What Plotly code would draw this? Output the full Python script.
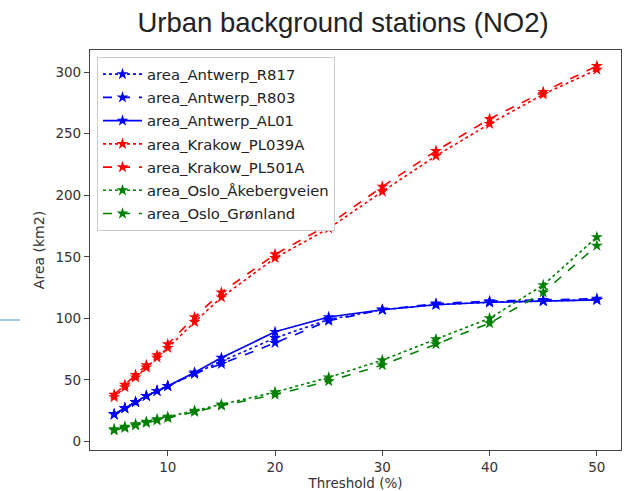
import plotly.graph_objects as go

thresholds = [5, 6, 7, 8, 9, 10, 12.5, 15, 20, 25, 30, 35, 40, 45, 50]

antwerp_r817 = [22, 27, 32, 37, 41, 45, 55, 65, 84, 99, 107, 111, 113, 114, 115]
antwerp_r803 = [22, 27, 32, 37, 41, 45, 55, 63, 80, 98, 107, 112, 114, 115, 116]
antwerp_al01 = [22, 27, 32, 37, 41, 45, 56, 68, 89, 101, 107, 111, 113, 114, 115]
krakow_pl039a = [36, 44, 52, 60, 68, 76, 97, 117, 149, 173, 203, 232, 258, 282, 302]
krakow_pl501a = [38, 46, 54, 62, 70, 79, 101, 121, 152, 176, 207, 236, 262, 284, 305]
oslo_akeberg = [10, 12, 14, 16, 18, 20, 25, 30, 40, 52, 66, 83, 100, 127, 166]
oslo_gronland = [9, 11, 13, 15, 17, 19, 24, 29, 38, 49, 62, 79, 96, 121, 159]

series = [
    ("area_Antwerp_R817", antwerp_r817, "blue", "dot"),
    ("area_Antwerp_R803", antwerp_r803, "blue", "dash"),
    ("area_Antwerp_AL01", antwerp_al01, "blue", "solid"),
    ("area_Krakow_PL039A", krakow_pl039a, "red", "dot"),
    ("area_Krakow_PL501A", krakow_pl501a, "red", "dash"),
    ("area_Oslo_Åkebergveien", oslo_akeberg, "green", "dot"),
    ("area_Oslo_Grønland", oslo_gronland, "green", "dash"),
]

fig = go.Figure()
for i, (name, vals, color, dash) in enumerate(series):
    fig.add_trace(go.Scatter(
        x=thresholds, y=vals, name=name, mode="lines+markers",
        line=dict(color=color, dash=dash, width=1.6),
        marker=dict(symbol="star", size=9, color=color),
        legendgroup=f"g{i}",
    ))

axis_common = dict(
    showline=True, mirror=True, linecolor="#444", linewidth=1.2,
    ticks="outside", ticklen=5, tickcolor="#444", showgrid=False, zeroline=False,
    tickfont=dict(family="DejaVu Sans", size=13.5, color="#333"),
)

fig.update_layout(
    width=626, height=491,
    margin=dict(l=90, r=5, t=50, b=41),
    paper_bgcolor="white", plot_bgcolor="white",
    title=dict(text="Urban background stations (NO2)", x=343 / 626, xanchor="center",
               y=1 - 22 / 491, yanchor="middle",
               font=dict(family="Liberation Sans", size=27.5, color="#222")),
    xaxis=dict(range=[2.75, 52.25], tickvals=[10, 20, 30, 40, 50],
               title=dict(text="Threshold (%)", standoff=1,
                          font=dict(family="DejaVu Sans", size=13.5, color="#333")),
               **axis_common),
    yaxis=dict(range=[-7, 318], tickvals=[0, 50, 100, 150, 200, 250, 300],
               title=dict(text="Area (km2)", standoff=7,
                          font=dict(family="DejaVu Sans", size=14, color="#333")),
               **axis_common),
    legend=dict(x=7 / 531, y=1 - 7 / 400, xanchor="left", yanchor="top",
                bgcolor="white", bordercolor="#ccc", borderwidth=1,
                font=dict(family="DejaVu Sans", size=14.8, color="#222"),
                tracegroupgap=1, itemwidth=39),
    showlegend=True,
)

fig.add_shape(type="line", xref="paper", yref="paper",
              x0=-90 / 531, x1=-70 / 531, y0=(450 - 320) / 400, y1=(450 - 320) / 400,
              line=dict(color="#7fb8e0", width=1.5))

fig.write_html("out.html", config={"displayModeBar": False},
               post_script="document.body.style.margin='0';document.body.style.overflow='hidden';")
